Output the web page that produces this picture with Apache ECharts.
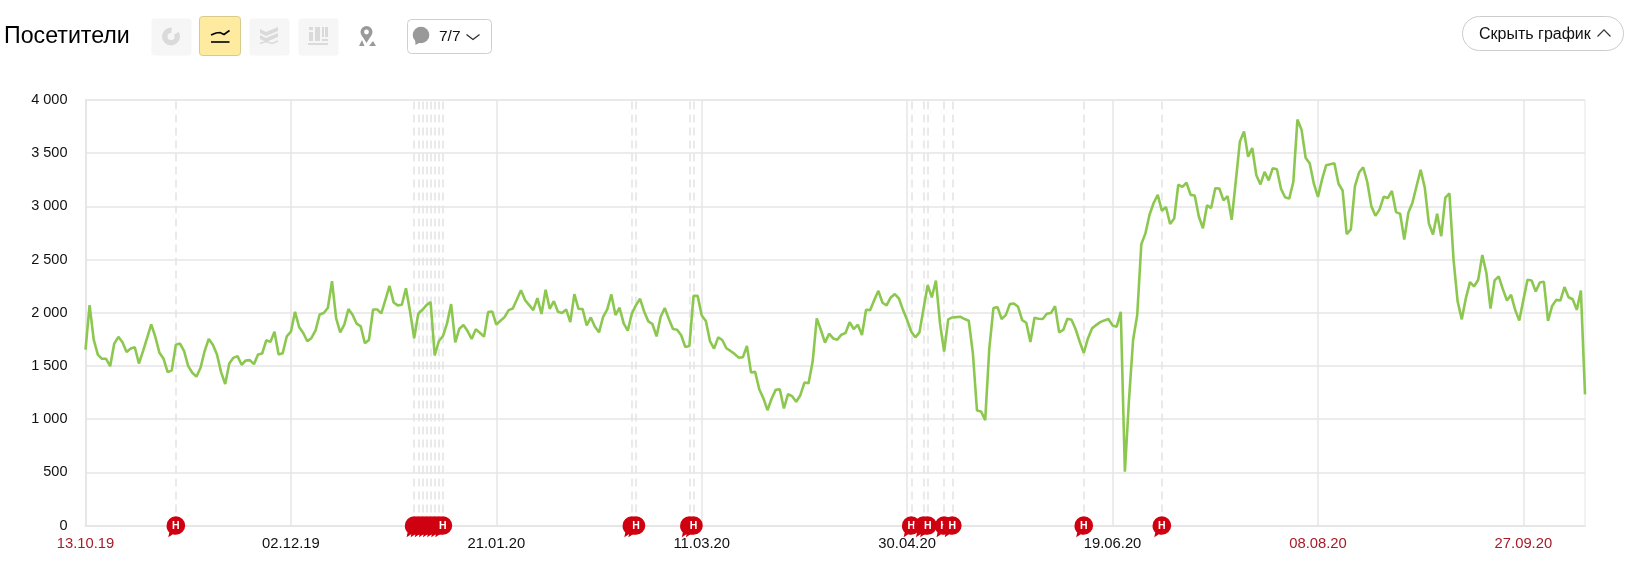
<!DOCTYPE html>
<html>
<head>
<meta charset="utf-8">
<style>html,body{margin:0;padding:0;background:#fff}#c{width:1630px;height:572px}</style>
<script src="https://cdn.jsdelivr.net/npm/echarts@6/dist/echarts.min.js"></script>
</head>
<body>
<div id="c"></div>
<script>
var startDate = [2019, 9, 13];
var visitors = [
1654,2072,1748,1607,1567,1567,1498,1710,1773,1723,
1632,1664,1676,1523,1640,1763,1890,1773,1623,1567,
1442,1458,1700,1710,1640,1498,1436,1399,1483,1640,
1754,1700,1607,1442,1330,1523,1576,1592,1511,1551,
1555,1517,1607,1617,1741,1726,1822,1607,1620,1779,
1822,2009,1866,1810,1732,1763,1835,1984,1997,2047,
2296,1950,1816,1888,2034,1981,1897,1872,1713,1745,
2031,2031,1994,2121,2252,2097,2069,2075,2230,2012,
1760,1991,2028,2072,2100,1598,1732,1781,1900,2081,
1722,1850,1884,1828,1753,1844,1812,1775,2006,2012,
1888,1925,1959,2025,2040,2125,2212,2119,2072,2025,
2137,1988,2216,2037,2109,2009,1997,2031,1912,2175,
2037,2034,1881,1956,1869,1816,1962,2031,2172,1978,
2047,1900,1831,1994,2072,2131,2009,1919,1894,1778,
1962,2044,1941,1847,1841,1788,1678,1688,2159,2159,
1975,1922,1734,1663,1769,1744,1666,1641,1613,1578,
1581,1688,1438,1444,1281,1197,1084,1191,1275,1281,
1100,1234,1216,1163,1225,1344,1338,1541,1947,1838,
1719,1803,1759,1747,1794,1809,1912,1847,1888,1791,
2028,2025,2119,2206,2094,2069,2144,2175,2134,2025,
1931,1822,1769,1816,2041,2259,2144,2303,1900,1634,
1938,1956,1959,1962,1941,1925,1619,1081,1072,991,
1666,2044,2053,1941,1978,2081,2087,2056,1931,1906,
1725,1953,1944,1941,1991,1997,2062,1816,1838,1944,
1934,1847,1728,1622,1759,1853,1884,1912,1928,1941,
1881,1869,2009,506,1181,1744,1978,2644,2746,2921,
3032,3108,2959,2994,2835,2886,3203,3184,3222,3108,
3102,2905,2794,3010,2984,3171,3168,3057,3095,2873,
3238,3610,3705,3467,3549,3292,3206,3324,3244,3359,
3349,3165,3086,3073,3229,3816,3721,3457,3403,3213,
3089,3254,3387,3397,3406,3213,3149,2740,2784,3190,
3318,3368,3229,3000,2911,2972,3091,3079,3145,2946,
2931,2688,2940,3035,3192,3343,3176,2839,2735,2931,
2720,3082,3123,2499,2105,1938,2137,2288,2247,2310,
2543,2373,2039,2304,2342,2222,2115,2168,2027,1926,
2121,2310,2304,2200,2285,2291,1923,2064,2121,2115,
2241,2146,2127,2027,2209,1233
];
var redTickLabels = ['13.10.19', '08.08.20', '27.09.20'];
var eventDates = [
'04.11.19','01.01.20','02.01.20','03.01.20','04.01.20','05.01.20','06.01.20','07.01.20','08.01.20',
'23.02.20','24.02.20','08.03.20','09.03.20','01.05.20','04.05.20','05.05.20','09.05.20','11.05.20',
'12.06.20','01.07.20'
];
var eventLabel = 'Н';
var yTickValues = [0, 500, 1000, 1500, 2000, 2500, 3000, 3500, 4000];
var pageTitle = 'Посетители';
var commentsLabel = '7/7';
var hideLabel = 'Скрыть график';

function pad(n){return (n<10?'0':'')+n;}
var categories = visitors.map(function(_, i){
  var d = new Date(Date.UTC(startDate[0], startDate[1], startDate[2] + i));
  return pad(d.getUTCDate())+'.'+pad(d.getUTCMonth()+1)+'.'+pad(d.getUTCFullYear()%100);
});

var FONT = '"Liberation Sans", Arial, sans-serif';
var GRID = '#e6e6e6';
var ICON = '#dadada';
function box(x,y,w,h,fill,stroke,r){
  return {type:'rect',shape:{x:x+.5,y:y+.5,width:w,height:h,r:r},style:{fill:fill,stroke:stroke||null,lineWidth:stroke?1:0},silent:true};
}
function poly(points,fill){return {type:'polygon',shape:{points:points},style:{fill:fill},silent:true};}
function pline(points,stroke,w){return {type:'polyline',shape:{points:points},style:{fill:null,stroke:stroke,lineWidth:w},silent:true};}
function txt(x,y,t,size,color,align){
  return {type:'text',x:x,y:y,style:{text:t,font:size+'px '+FONT,fill:color,textAlign:align||'left',textVerticalAlign:'middle'},silent:true};
}
var header = [
  txt(4,37,pageTitle,23.2,'#000'),
  box(151,18,40,37,'#f6f6f6',null,3),
  {type:'ring',shape:{cx:171,cy:36.5,r:9,r0:3.5},style:{fill:ICON},silent:true},
  poly([[171,36.5],[172,26],[176,26],[180,31]],'#f6f6f6'),
  box(199,16,41,39,'#ffeba0','#d8c98c',3),
  pline([[211,35],[216,33],[220,32.5],[224,34.5],[229.5,30.5]],'#000',1.6),
  pline([[211,42],[229.5,42]],'#000',1.6),
  box(249,18,40,37,'#f6f6f6',null,3),
  poly([[260,29],[266,32],[278,27],[278,31],[266,36],[260,33]],ICON),
  poly([[260,35],[266,38],[278,33],[278,37],[266,42],[260,39]],ICON),
  pline([[260,43.5],[266,41.5],[272,43.5],[278,41]],ICON,1.5),
  box(298,18,40,37,'#f6f6f6',null,3),
  {type:'rect',shape:{x:309,y:32,width:4,height:9},style:{fill:ICON},silent:true},
  {type:'rect',shape:{x:309,y:27,width:4,height:3},style:{fill:ICON},silent:true},
  {type:'rect',shape:{x:315,y:27,width:5,height:14},style:{fill:ICON},silent:true},
  {type:'rect',shape:{x:322,y:27,width:2,height:10},style:{fill:ICON},silent:true},
  {type:'rect',shape:{x:325,y:27,width:3,height:10},style:{fill:ICON},silent:true},
  {type:'rect',shape:{x:322,y:39,width:6,height:2},style:{fill:ICON},silent:true},
  {type:'rect',shape:{x:308,y:43,width:20,height:2},style:{fill:ICON},silent:true},
  poly([[361.5,35],[366.5,43],[371.5,35]],'#9a9a9a'),
  {type:'ring',shape:{cx:366.5,cy:32,r:6,r0:2.4},style:{fill:'#9a9a9a'},silent:true},
  poly([[359,46],[362,40],[364.5,46]],'#9a9a9a'),
  poly([[369,46],[373,41],[376,46]],'#9a9a9a'),
  box(407,19,84,34,'#fff','#cfcfcf',4),
  {type:'circle',shape:{cx:421,cy:35,r:8.3},style:{fill:'#999'},silent:true},
  poly([[415,38],[415.5,45],[421,42]],'#999'),
  txt(439,37,commentsLabel,15.5,'#111'),
  pline([[466.5,34.5],[473,39.5],[479.5,34.5]],'#222',1.1),
  box(1462,16,161,34,'#fff','#cccccc',17),
  txt(1479,35,hideLabel,16,'#111'),
  pline([[1597.5,36.5],[1604,29.8],[1610.5,36.5]],'#333',1.2)
];

var bubblePath = 'path://M-9.3 0A9.3 9.3 0 1 1-3 8.8L-7.6 11.7L-6.6 7.1A9.3 9.3 0 0 1-9.3 0Z';

var eventSeries = eventDates.map(function(d, i){
  return {
    type:'scatter',z:10+i,clip:false,silent:true,
    data:[[d,0]],
    symbol:bubblePath,symbolSize:[18.6,21],symbolOffset:[0,1.2],
    itemStyle:{color:'#cf0010',opacity:1},
    label:{show:true,position:'inside',offset:[0,-0.5],formatter:eventLabel,color:'#fff',
      fontSize:10.5,fontWeight:'bold',fontFamily:FONT}
  };
});

var chart = echarts.init(document.getElementById('c'), null, {renderer:'canvas'});
chart.setOption({
  animation:false,
  backgroundColor:'#fff',
  textStyle:{fontFamily:FONT},
  graphic:{elements:header},
  grid:{left:85.5,right:45,top:100,bottom:46.5,show:true,borderColor:GRID,borderWidth:1,backgroundColor:'transparent'},
  xAxis:{
    type:'category',data:categories,boundaryGap:false,
    axisLine:{show:true,lineStyle:{color:GRID,width:2}},
    axisTick:{show:false},
    axisLabel:{
      interval:49,margin:10.5,fontSize:14.8,fontFamily:FONT,
      color:function(v){return redTickLabels.indexOf(v)>=0?'#a61c28':'#111';}
    },
    splitLine:{show:true,interval:49,lineStyle:{color:GRID,width:1.5}}
  },
  yAxis:{
    type:'value',min:yTickValues[0],max:yTickValues[yTickValues.length-1],interval:yTickValues[1]-yTickValues[0],
    axisLine:{show:true,lineStyle:{color:GRID,width:2}},
    axisTick:{show:false},
    axisLabel:{margin:18,fontSize:14.5,fontFamily:FONT,color:'#111',padding:[5,0,0,0],
      formatter:function(v){return String(v).replace(/(\d)(\d{3})$/,'$1 $2');}},
    splitLine:{show:true,lineStyle:{color:GRID,width:1.5}}
  },
  series:[
    {
      type:'line',data:visitors,symbol:'none',smooth:false,z:3,
      lineStyle:{color:'#8cc850',width:2.6},
      markLine:{
        silent:true,symbol:'none',z:1,label:{show:false},
        lineStyle:{color:'#e4e4e4',width:1.5,type:[8,5]},
        data:eventDates.map(function(d){return {xAxis:d};})
      }
    }
  ].concat(eventSeries)
});
</script>
</body>
</html>
